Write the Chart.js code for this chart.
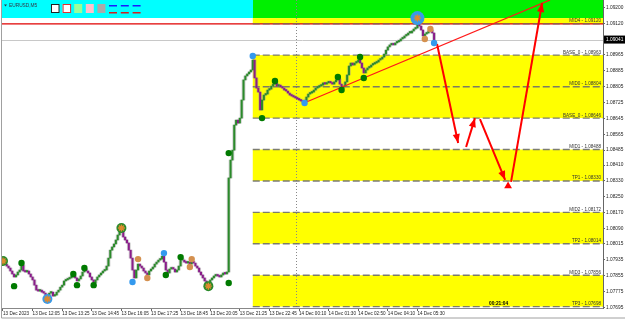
<!DOCTYPE html>
<html>
<head>
<meta charset="utf-8">
<script src="https://cdn.jsdelivr.net/npm/chart.js@4.4.0/dist/chart.umd.min.js"></script>
<style>
  html, body { margin: 0; padding: 0; background: #fff; }
</style>
</head>
<body>
<canvas id="chart" width="625" height="320"></canvas>
<script>
// EURUSD M5 closes, one per bar
const closes = [
  1.07922, 1.07912, 1.07902, 1.07892, 1.07877, 1.07862, 1.07847, 1.07857, 1.07872, 1.07882,
  1.07907, 1.07877, 1.07872, 1.07877, 1.07862, 1.07847, 1.07832, 1.07806, 1.07781, 1.07776,
  1.07781, 1.07771, 1.07766, 1.07756, 1.07746, 1.07766, 1.07771, 1.07751, 1.07756, 1.07771,
  1.07781, 1.07796, 1.07806, 1.07827, 1.07832, 1.07837, 1.07842, 1.07847, 1.07852, 1.07842,
  1.07827, 1.07837, 1.07852, 1.07872, 1.07887, 1.07877, 1.07867, 1.07847, 1.07832, 1.07817,
  1.07832, 1.07847, 1.07857, 1.07867, 1.07877, 1.07882, 1.07902, 1.07942, 1.07982, 1.07998,
  1.08013, 1.08033, 1.08058, 1.08073, 1.08083, 1.08048, 1.08033, 1.08018, 1.07982, 1.07942,
  1.07882, 1.07842, 1.07882, 1.07912, 1.07902, 1.07892, 1.07877, 1.07867, 1.07857, 1.07877,
  1.07887, 1.07897, 1.07912, 1.07922, 1.07932, 1.07937, 1.07952, 1.07922, 1.07882, 1.07867,
  1.07887, 1.07892, 1.07887, 1.07872, 1.07882, 1.07902, 1.07932, 1.07932, 1.07922, 1.07917,
  1.07922, 1.07912, 1.07927, 1.07917, 1.07902, 1.07892, 1.07872, 1.07857, 1.07842, 1.07827,
  1.07811, 1.07811, 1.07832, 1.07842, 1.07852, 1.07857, 1.07852, 1.07847, 1.07857, 1.07867,
  1.07862, 1.07872, 1.08345, 1.08435, 1.08485, 1.08611, 1.08636, 1.08621, 1.08646, 1.08737,
  1.08838, 1.08858, 1.08868, 1.08878, 1.08888, 1.08938, 1.08848, 1.08797, 1.08777, 1.08687,
  1.08737, 1.08762, 1.08767, 1.08787, 1.08792, 1.08807, 1.08817, 1.08823, 1.08807, 1.08812,
  1.08802, 1.08797, 1.08787, 1.08782, 1.08772, 1.08762, 1.08757, 1.08752, 1.08747, 1.08742,
  1.08737, 1.08732, 1.08727, 1.08732, 1.08752, 1.08767, 1.08772, 1.08777, 1.08787, 1.08797,
  1.08802, 1.08807, 1.08812, 1.08823, 1.08817, 1.08823, 1.08828, 1.08823, 1.08817, 1.08828,
  1.08838, 1.08843, 1.08817, 1.08797, 1.08807, 1.08828, 1.08863, 1.08908, 1.08923, 1.08913,
  1.08923, 1.08928, 1.08938, 1.08923, 1.08898, 1.08873, 1.08888, 1.08898, 1.08903, 1.08913,
  1.08918, 1.08923, 1.08928, 1.08938, 1.08943, 1.08953, 1.08968, 1.08988, 1.09004, 1.09014,
  1.09019, 1.09014, 1.09024, 1.09029, 1.09034, 1.09044, 1.09049, 1.09059, 1.09064, 1.09074,
  1.09074, 1.09084, 1.09094, 1.09099, 1.09119, 1.09109, 1.09089, 1.09059, 1.09069, 1.09074,
  1.09084, 1.09089, 1.09074, 1.09039
];

const timeLabels = ['13 Dec 2023', '13 Dec 12:05', '13 Dec 13:25', '13 Dec 14:45', '13 Dec 16:05',
  '13 Dec 17:25', '13 Dec 18:45', '13 Dec 20:05', '13 Dec 21:25', '13 Dec 22:45',
  '14 Dec 00:10', '14 Dec 01:30', '14 Dec 02:50', '14 Dec 04:10', '14 Dec 05:30'];
const timeTickBars = [0, 16, 32, 48, 64, 80, 96, 112, 128, 144, 160, 176, 192, 208, 224];

const priceTicks = [1.09200, 1.09120, 1.08965, 1.08885, 1.08805, 1.08725, 1.08645, 1.08565, 1.08485,
  1.08410, 1.08330, 1.08250, 1.08170, 1.08090, 1.08015, 1.07935, 1.07855, 1.07775, 1.07695];
const currentPrice = 1.09041;

// levels and zones
const levelNames = ['MID4', 'BASE_0', 'MID0', 'BASE_0', 'MID1', 'TP1', 'MID2', 'TP2', 'MID3', 'TP3'];
const levelPrices = [1.09120, 1.08963, 1.08804, 1.08646, 1.08488, 1.08330, 1.08172, 1.08014, 1.07856, 1.07698];
const yellowZones = [[1.09149, 1.09120], [1.08963, 1.08646], [1.08488, 1.08330], [1.08172, 1.08014], [1.07856, 1.07698]];
const greenZone = [1.09240, 1.09149];
const zoneStartBar = 135;
const sessionBar = 158.4;

// swing markers
const blueBars = [70, 87, 135, 163, 233];
const bluePrices = [1.07822, 1.07967, 1.08958, 1.08722, 1.09024];
const greenBars = [6, 10, 38, 40, 44, 49, 88, 96, 122, 122, 140, 147, 181, 183, 193, 195];
const greenPrices = [1.07801, 1.07917, 1.07862, 1.07806, 1.07892, 1.07806, 1.07857, 1.07947, 1.07817,
  1.08470, 1.08646, 1.08833, 1.08853, 1.08787, 1.08953, 1.08848];
const orangeBars = [73, 78, 101, 102, 228, 231];
const orangePrices = [1.07937, 1.07842, 1.07897, 1.07937, 1.09044, 1.09094];
const starGreenBars = [0, 64, 111];
const starGreenPrices = [1.07927, 1.08093, 1.07801];
const starBlueBars = [24, 224];
const starBluePrices = [1.07736, 1.09149];

// drawn objects: trend line and projected path
const trendBars = [162.7, 295.7];
const trendPrices = [1.08722, 1.09240];
const arrowBars = [[234.6, 246], [250.3, 255.1], [257.8, 271.4], [274.6, 291.4]];
const arrowPrices = [[1.09019, 1.08521], [1.08501, 1.08646], [1.08641, 1.08335], [1.08325, 1.09225]];
const targetBar = 273;
const targetPrice = 1.08304;

const pts = (bars, prices) => bars.map((b, i) => ({ x: b, y: prices[i] }));
const candleData = closes.map((c, i) => ({ x: i, y: [i ? closes[i - 1] : c, c] }));
const candleColors = closes.map((c, i) => (i && c < closes[i - 1]) ? '#8a1c8a' : '#2b8a2b');

const font = 'Liberation Sans, Arial, sans-serif';

const overlay = {
  id: 'overlay',
  beforeDatasetsDraw(chart) {
    const { ctx, chartArea: a, scales: { x, y } } = chart;
    ctx.save();
    const x0 = x.getPixelForValue(zoneStartBar);
    ctx.fillStyle = '#00f000';
    let t = y.getPixelForValue(greenZone[0]), b = y.getPixelForValue(greenZone[1]);
    ctx.fillRect(x0, t, a.right - x0, b - t);
    ctx.fillStyle = '#ffff00';
    yellowZones.forEach(z => {
      t = y.getPixelForValue(z[0]);
      b = y.getPixelForValue(z[1]);
      ctx.fillRect(x0, t, a.right - x0, b - t);
    });

    // current price line
    const cp = Math.round(y.getPixelForValue(currentPrice)) + 0.5;
    ctx.strokeStyle = '#c8c8c8';
    ctx.lineWidth = 1;
    ctx.beginPath(); ctx.moveTo(a.left, cp); ctx.lineTo(a.right, cp); ctx.stroke();

    // session separator
    const sx = Math.round(x.getPixelForValue(sessionBar)) + 0.5;
    ctx.strokeStyle = '#888';
    ctx.setLineDash([1, 2]);
    ctx.beginPath(); ctx.moveTo(sx, a.top); ctx.lineTo(sx, a.bottom); ctx.stroke();

    // red MID4 line across the chart
    const m4 = y.getPixelForValue(levelPrices[0]);
    ctx.setLineDash([]);
    ctx.strokeStyle = '#e00000';
    ctx.lineWidth = 1.2;
    ctx.beginPath(); ctx.moveTo(a.left, m4); ctx.lineTo(a.right, m4); ctx.stroke();

    // level dashes
    ctx.strokeStyle = 'rgba(110,110,110,0.9)';
    ctx.lineWidth = 1.4;
    ctx.setLineDash([7, 3]);
    levelPrices.forEach(p => {
      const py = y.getPixelForValue(p);
      ctx.beginPath(); ctx.moveTo(x0, py); ctx.lineTo(a.right, py); ctx.stroke();
    });
    ctx.restore();
  },
  afterDatasetsDraw(chart) {
    const { ctx, scales: { x, y } } = chart;
    ctx.save();
    // arrow heads
    chart.data.datasets.forEach((ds, i) => {
      if (!ds.arrow) return;
      const m = chart.getDatasetMeta(i).data;
      const p0 = m[0], p1 = m[1];
      const ang = Math.atan2(p1.y - p0.y, p1.x - p0.x);
      const len = 9, w = 3.6;
      ctx.fillStyle = '#ff0000';
      ctx.beginPath();
      ctx.moveTo(p1.x, p1.y);
      ctx.lineTo(p1.x - len * Math.cos(ang) + w * Math.sin(ang), p1.y - len * Math.sin(ang) - w * Math.cos(ang));
      ctx.lineTo(p1.x - len * Math.cos(ang) - w * Math.sin(ang), p1.y - len * Math.sin(ang) + w * Math.cos(ang));
      ctx.closePath();
      ctx.fill();
    });

    // level labels
    const right = chart.chartArea.right - 2;
    ctx.font = '4.6px ' + font;
    ctx.fillStyle = '#333';
    ctx.textAlign = 'right';
    ctx.textBaseline = 'bottom';
    levelNames.forEach((n, i) => {
      ctx.fillText(n + ' - ' + levelPrices[i].toFixed(5), right, y.getPixelForValue(levelPrices[i]) - 0.5);
    });
    ctx.font = 'bold 4.8px ' + font;
    ctx.fillStyle = '#000';
    ctx.textAlign = 'left';
    ctx.fillText('00:21:04', 489, y.getPixelForValue(levelPrices[9]) - 0.5);
    ctx.restore();
  },
  afterDraw(chart) {
    const { ctx, chartArea: a, scales: { y } } = chart;
    ctx.save();
    // toolbar panel
    ctx.fillStyle = '#00ffff';
    ctx.fillRect(a.left, 0, 251, 18);
    ctx.fillStyle = '#334';
    ctx.font = '4.8px ' + font;
    ctx.textBaseline = 'middle';
    ctx.fillText('EURUSD,M5', 9, 5.5);
    ctx.beginPath(); ctx.moveTo(4, 4.5); ctx.lineTo(7, 4.5); ctx.lineTo(5.5, 6.5); ctx.closePath(); ctx.fill();
    const boxes = [['#fff', '#222'], ['#fff', '#e03030'], ['#99ff99', null], ['#ffc0cb', null], ['#aaaaaa', null]];
    boxes.forEach((bx, i) => {
      const bxX = 51 + i * 11.6;
      ctx.fillStyle = bx[0];
      ctx.fillRect(bxX, 4, 8, 9);
      if (bx[1]) { ctx.strokeStyle = bx[1]; ctx.lineWidth = 1; ctx.strokeRect(bxX + 0.5, 4.5, 7.5, 8); }
    });
    for (let i = 0; i < 3; i++) {
      const dx = 109 + i * 11.8;
      ctx.fillStyle = '#1a1aff';
      ctx.fillRect(dx, 5, 8, 1.5);
      ctx.fillStyle = '#d02020';
      ctx.fillRect(dx, 12, 8, 1.5);
    }

    // current price box
    const cp = y.getPixelForValue(currentPrice);
    ctx.fillStyle = '#000';
    ctx.fillRect(a.right + 1, cp - 4, 21, 8);
    ctx.fillStyle = '#fff';
    ctx.font = '4.8px ' + font;
    ctx.textAlign = 'left';
    ctx.fillText(currentPrice.toFixed(5), a.right + 3, cp);

    // frame
    ctx.strokeStyle = '#a0a0a0';
    ctx.lineWidth = 1;
    ctx.beginPath(); ctx.moveTo(1.5, 0); ctx.lineTo(1.5, 318); ctx.lineTo(625, 318); ctx.stroke();
    ctx.restore();
  }
};

const lineSet = (data, color, width, extra) => Object.assign({
  type: 'line', data, borderColor: color, borderWidth: width, pointRadius: 0, fill: false
}, extra || {});
const dotSet = (data, fill, radius, extra) => Object.assign({
  type: 'line', data, showLine: false, pointRadius: radius, pointBackgroundColor: fill,
  pointBorderColor: fill, pointBorderWidth: 0
}, extra || {});

const noPad = s => { s.paddingTop = 0; s.paddingBottom = 0; s.paddingLeft = 0; s.paddingRight = 0; };

new Chart(document.getElementById('chart'), {
  type: 'bar',
  data: {
    datasets: [
      { type: 'bar', data: candleData, backgroundColor: 'rgba(150,150,150,0.45)', barThickness: 3.2, minBarLength: 2, grouped: false, order: 11 },
      { type: 'bar', data: candleData, backgroundColor: candleColors, barThickness: 1.4, minBarLength: 1.5, grouped: false, order: 10 },
      lineSet(pts(trendBars, trendPrices), '#ff1a1a', 1.3, { order: 5 }),
      ...arrowBars.map((ab, i) => lineSet(pts(ab, arrowPrices[i]), '#ff0000', 2, { arrow: true, order: 4 })),
      dotSet([{ x: targetBar, y: targetPrice }], '#ff0000', 4.5, { pointStyle: 'triangle', order: 3 }),
      dotSet(pts(starGreenBars, starGreenPrices), '#2a8a2a', 5, { order: 3 }),
      dotSet(pts(starBlueBars, starBluePrices), '#3a9ae8', [5, 7], { order: 3 }),
      dotSet(pts(blueBars, bluePrices), '#3399ee', 3.2, { order: 2 }),
      dotSet(pts(greenBars, greenPrices), '#007a00', 3.2, { order: 2 }),
      dotSet(pts(orangeBars, orangePrices), '#d4904f', 3.2, { order: 2 }),
      dotSet(pts(starGreenBars.concat(starBlueBars), starGreenPrices.concat(starBluePrices)), 'rgba(0,0,0,0)', 3.5,
        { pointStyle: 'star', pointBorderColor: '#e08a2e', pointBorderWidth: 1.4, order: 1 })
    ]
  },
  plugins: [overlay],
  options: {
    responsive: false,
    animation: false,
    layout: { autoPadding: false, padding: { left: 2, top: 0, right: 0, bottom: 0 } },
    plugins: { legend: { display: false }, tooltip: { enabled: false } },
    scales: {
      x: {
        type: 'linear',
        min: -0.54,
        max: 324.3,
        offset: false,
        grid: { display: true, drawOnChartArea: false, tickLength: 3, color: '#666', offset: false },
        border: { color: '#888' },
        afterBuildTicks: s => { s.ticks = timeTickBars.map(v => ({ value: v })); },
        afterFit: s => { s.height = 12; noPad(s); },
        ticks: {
          align: 'start',
          maxRotation: 0,
          autoSkip: false,
          padding: 0,
          color: '#222',
          font: { size: 4.6, family: font },
          callback: (v, i) => timeLabels[i]
        }
      },
      y: {
        position: 'right',
        min: 1.07691,
        max: 1.09240,
        grid: { display: true, drawOnChartArea: false, tickLength: 2, color: '#666' },
        border: { color: '#666' },
        afterBuildTicks: s => { s.ticks = priceTicks.map(v => ({ value: v })); },
        afterFit: s => { s.width = 22; noPad(s); },
        ticks: {
          padding: 1,
          color: '#222',
          font: { size: 4.8, family: font },
          callback: v => v.toFixed(5)
        }
      }
    }
  }
});
</script>
</body>
</html>
